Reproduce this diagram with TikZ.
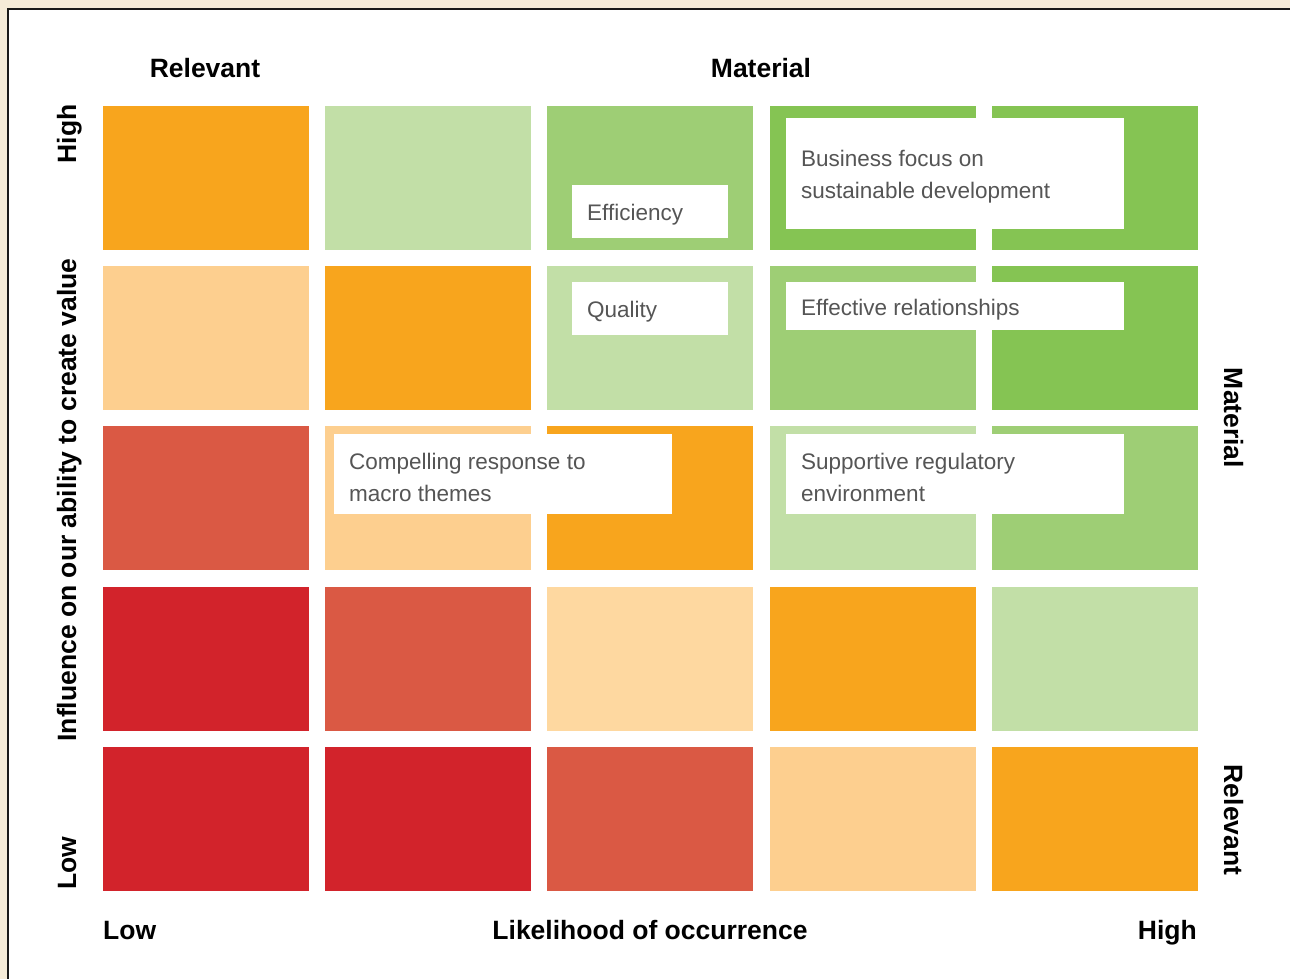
\documentclass[tikz,border=0pt]{standalone}
\usepackage{fontspec}
\setmainfont{Liberation Sans}
\definecolor{cBack}{HTML}{F5EBD8}
\definecolor{cOr}{HTML}{F8A51D}
\definecolor{cLo}{HTML}{FDCF8F}
\definecolor{cLoo}{HTML}{FED8A0}
\definecolor{cRo}{HTML}{DA5944}
\definecolor{cRd}{HTML}{D2232B}
\definecolor{cLg}{HTML}{C2DFA7}
\definecolor{cMg}{HTML}{9ECE75}
\definecolor{cBg}{HTML}{85C453}
\definecolor{txtgrey}{HTML}{555555}
\begin{document}
\begin{tikzpicture}[x=1pt,y=-1pt,
  cell/.style={rectangle, anchor=north west, minimum width=206pt, minimum height=144pt, inner sep=0pt, outer sep=0pt},
  lblbox/.style={rectangle, anchor=north west, fill=white, inner sep=0pt},
  lbl/.style={anchor=west, inner sep=0pt, xshift=15pt, yshift=-3pt, align=left, text=txtgrey, font=\fontsize{22.5}{32}\selectfont},
  axis/.style={font=\bfseries\fontsize{26.5}{30}\selectfont, inner sep=0pt, anchor=base}]
\fill[cBack] (0,0) rectangle (1290,979);
\useasboundingbox (0,0) rectangle (1290,979);
\fill[white] (8,9) rectangle (1290,979);
\draw[line width=2.5pt, black!90] (8,979) -- (8,9) -- (1290,9);
\foreach \r/\y/\ca/\cb/\cc/\cd/\ce in {1/106/cOr/cLg/cMg/cBg/cBg, 2/266/cLo/cOr/cLg/cMg/cBg, 3/426/cRo/cLo/cOr/cLg/cMg, 4/587/cRd/cRo/cLoo/cOr/cLg, 5/747/cRd/cRd/cRo/cLo/cOr}{
  \node[cell, fill=\ca] (c\r a) at (103,\y) {};
  \node[cell, fill=\cb] (c\r b) at (325,\y) {};
  \node[cell, fill=\cc] (c\r c) at (547,\y) {};
  \node[cell, fill=\cd] (c\r d) at (770,\y) {};
  \node[cell, fill=\ce] (c\r e) at (992,\y) {};
}
\node[lblbox, minimum width=156pt, minimum height=53pt] (effbox) at (572,185) {};
\node[lbl] (eff) at (effbox.west) {Efficiency};
\node[lblbox, minimum width=338pt, minimum height=111pt] (busbox) at (786,118) {};
\node[lbl] (bus) at (busbox.west) {Business focus on\\sustainable development};
\node[lblbox, minimum width=156pt, minimum height=53pt] (qualbox) at (572,282) {};
\node[lbl] (qual) at (qualbox.west) {Quality};
\node[lblbox, minimum width=338pt, minimum height=48pt] (effrelbox) at (786,282) {};
\node[lbl] (effrel) at (effrelbox.west) {Effective relationships};
\node[lblbox, minimum width=338pt, minimum height=80pt] (compbox) at (334,434) {};
\node[lbl] (comp) at (compbox.west) {Compelling response to\\macro themes};
\node[lblbox, minimum width=338pt, minimum height=80pt] (suppbox) at (786,434) {};
\node[lbl] (supp) at (suppbox.west) {Supportive regulatory\\environment};
\node[axis] (toprel) at (205,78) {Relevant};
\node[axis] (topmat) at (761,78) {Material};
\node[axis, anchor=base west] (botlow) at (103,939) {Low};
\node[axis] (botlik) at (650,939) {Likelihood of occurrence};
\node[axis, anchor=base east] (bothigh) at (1197,939) {High};
\node[axis, rotate=90] (lefthigh) at (76,134) {High};
\node[axis, rotate=90] (leftinf) at (76,500) {Influence on our ability to create value};
\node[axis, rotate=90] (leftlow) at (76,863) {Low};
\node[axis, rotate=-90] (rightmat) at (1224,418) {Material};
\node[axis, rotate=-90] (rightrel) at (1224,820) {Relevant};
\end{tikzpicture}
\end{document}
